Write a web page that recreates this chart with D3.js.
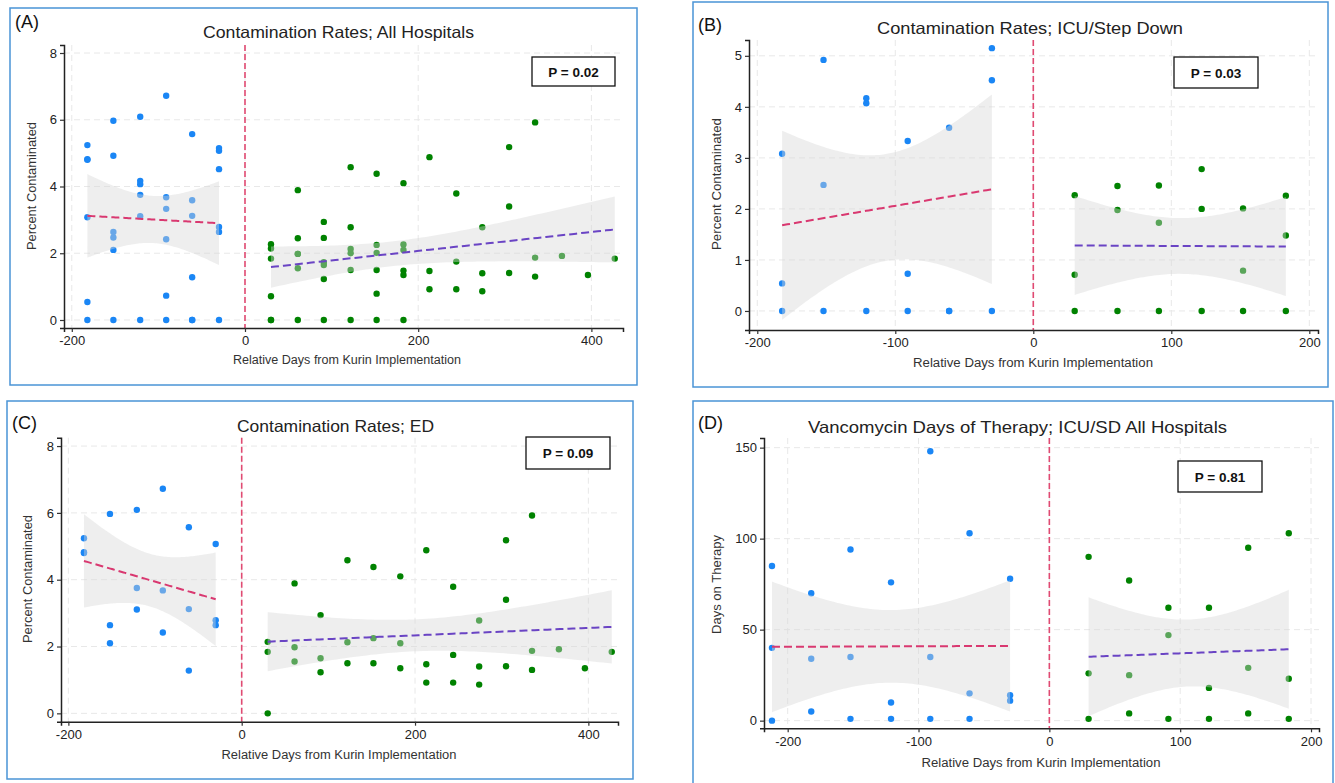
<!DOCTYPE html>
<html>
<head>
<meta charset="utf-8">
<script src="https://cdn.jsdelivr.net/npm/d3@7"></script>
<style>
  body { margin: 0; background: #fff; }
  text { font-family: "Liberation Sans", Arial, sans-serif; }
</style>
</head>
<body>
<svg id="chart" width="1335" height="783"></svg>
<script>
// ---- data ----
// months relative to Kurin implementation (days)
var preDays  = [-182, -152, -121, -91, -61, -30];
var postDays = [30, 61, 91, 122, 152, 183, 213, 244, 274, 305, 335, 366, 396, 427];

// percent contaminated, one sub-array per month (one value per hospital)
var icuPre  = [[3.08, 0.54, 0], [4.92, 2.47, 0], [4.17, 4.07, 0], [3.33, 0.73, 0], [3.59, 0, 0], [5.15, 4.52, 0]];
var icuPost = [[2.27, 0.71, 0], [2.45, 1.98, 0], [2.46, 1.73, 0], [2.78, 2.00, 0], [2.01, 0.79, 0], [2.26, 1.48, 0]];
var edPre   = [[5.24, 4.82, 4.80], [5.97, 2.64, 2.10], [6.09, 3.75, 3.11], [6.72, 3.68, 2.42], [5.57, 3.12, 1.28], [5.07, 2.79, 2.64]];
var edPost  = [[2.14, 1.84, 0], [3.89, 1.98, 1.55], [2.94, 1.65, 1.23], [4.58, 2.13, 1.50], [4.38, 2.25, 1.50],
               [4.10, 2.10, 1.35], [4.88, 1.47, 0.92], [3.79, 1.75, 0.92], [2.78, 1.40, 0.86], [5.18, 3.40, 1.41],
               [5.92, 1.87, 1.30], [1.92], [1.35], [1.84]];

// vancomycin days of therapy, ICU/SD
var vancoPreDays  = [-212, -182, -152, -121, -91, -61, -30];
var vancoPostDays = [30, 61, 91, 122, 152, 183];
var vancoPre  = [[85, 40, 0], [70, 34, 5], [94, 35, 1], [76, 10, 1], [148, 35, 1], [103, 15, 1], [78, 14, 11]];
var vancoPost = [[90, 26, 1], [77, 25, 4], [62, 47, 1], [62, 18, 1], [95, 29, 4], [103, 23, 1]];

var pValues = ["P = 0.02", "P = 0.03", "P = 0.09", "P = 0.81"];

// ---- helpers ----
function toPoints(days, groups) {
    var out = [];
    groups.forEach(function(g, i) {
        g.forEach(function(v) { out.push({x: days[i], y: v}); });
    });
    return out;
}

// 97.5% quantile of t distribution (Cornish-Fisher expansion)
function t975(df) {
    var z = 1.959964, z3 = z*z*z, z5 = z3*z*z, z7 = z5*z*z, z9 = z7*z*z;
    return z + (z3 + z) / (4*df)
             + (5*z5 + 16*z3 + 3*z) / (96*df*df)
             + (3*z7 + 19*z5 + 17*z3 - 15*z) / (384*df*df*df)
             + (79*z9 + 776*z7 + 1482*z5 - 1920*z3 - 945*z) / (92160*df*df*df*df);
}

function linFit(pts) {
    var n = pts.length;
    var mx = d3.mean(pts, function(d) { return d.x; });
    var my = d3.mean(pts, function(d) { return d.y; });
    var sxx = d3.sum(pts, function(d) { return (d.x - mx) * (d.x - mx); });
    var sxy = d3.sum(pts, function(d) { return (d.x - mx) * (d.y - my); });
    var b = sxy / sxx, a = my - b * mx;
    var sse = d3.sum(pts, function(d) { var r = d.y - a - b * d.x; return r * r; });
    var s = Math.sqrt(sse / (n - 2));
    var t = t975(n - 2);
    var x0 = d3.min(pts, function(d) { return d.x; });
    var x1 = d3.max(pts, function(d) { return d.x; });
    return d3.range(81).map(function(i) {
        var x = x0 + (x1 - x0) * i / 80;
        var yh = a + b * x;
        var se = s * Math.sqrt(1 / n + (x - mx) * (x - mx) / sxx);
        return {x: x, y: yh, lo: yh - t * se, hi: yh + t * se};
    });
}

// ---- panels ----
var xlabText = "Relative Days from Kurin Implementation";
var panels = [
    { tag: "(A)", title: "Contamination Rates; All Hospitals", ylab: "Percent Contaminated",
      pre: toPoints(preDays, icuPre).concat(toPoints(preDays, edPre)),
      post: toPoints(postDays.slice(0, 6), icuPost).concat(toPoints(postDays, edPost)),
      box: [10, 8, 637, 385], plot: [64, 45, 623, 328],
      xDom: [-209, 436.5], yDom: [-0.24, 8.24], xTicks: [-200, 0, 200, 400], yTicks: [0, 2, 4, 6, 8],
      pbox: [532, 57, 615, 86], titleX: 338.5, titleW: 271, titleY: 38.3, tagY: 22,
      xlabX: 347, xlabW: 228, xlabY: 364, ylabX: 36, ylabY: 186, ylabW: 128 },
    { tag: "(B)", title: "Contamination Rates; ICU/Step Down", ylab: "Percent Contaminated",
      pre: toPoints(preDays, icuPre), post: toPoints(postDays.slice(0, 6), icuPost),
      box: [693, 2, 1328, 387], plot: [749, 40, 1318, 330],
      xDom: [-206, 206.3], yDom: [-0.373, 5.31], xTicks: [-200, -100, 0, 100, 200], yTicks: [0, 1, 2, 3, 4, 5],
      pbox: [1174, 57, 1258, 88], titleX: 1030, titleW: 306, titleY: 33.5, tagY: 25,
      xlabX: 1033, xlabW: 240, xlabY: 367, ylabX: 721, ylabY: 184, ylabW: 132 },
    { tag: "(C)", title: "Contamination Rates; ED", ylab: "Percent Contaminated",
      pre: toPoints(preDays, edPre), post: toPoints(postDays, edPost),
      box: [7, 401, 633, 779], plot: [61, 437.7, 618, 721.7],
      xDom: [-208.5, 434.2], yDom: [-0.25, 8.25], xTicks: [-200, 0, 200, 400], yTicks: [0, 2, 4, 6, 8],
      pbox: [526, 437, 610, 469], titleX: 335.5, titleW: 197, titleY: 432, tagY: 423,
      xlabX: 339, xlabW: 235, xlabY: 759, ylabX: 32, ylabY: 579, ylabW: 128 },
    { tag: "(D)", title: "Vancomycin Days of Therapy; ICU/SD All Hospitals", ylab: "Days on Therapy",
      pre: toPoints(vancoPreDays, vancoPre), post: toPoints(vancoPostDays, vancoPost),
      box: [693, 401, 1333, 784], plot: [764, 438, 1319, 728.3],
      xDom: [-218.1, 206.1], yDom: [-4.2, 155.3], xTicks: [-200, -100, 0, 100, 200], yTicks: [0, 50, 100, 150],
      pbox: [1178, 461, 1262, 492], titleX: 1017.5, titleW: 419, titleY: 433, tagY: 423,
      xlabX: 1041, xlabW: 239, xlabY: 767, ylabX: 721, ylabY: 584.5, ylabW: 99 }
];

var svg = d3.select("#chart");
var fmt = function(d) { return String(d); };

panels.forEach(function(p, pi) {
    var g = svg.append("g");
    var x = d3.scaleLinear().domain(p.xDom).range([p.plot[0], p.plot[2]]);
    var y = d3.scaleLinear().domain(p.yDom).range([p.plot[3], p.plot[1]]);

    // panel frame
    g.append("rect")
        .attr("x", p.box[0]).attr("y", p.box[1])
        .attr("width", p.box[2] - p.box[0]).attr("height", p.box[3] - p.box[1])
        .attr("fill", "none").attr("stroke", "#4a94d6").attr("stroke-width", 1.5);

    // grid
    g.selectAll(".gx").data(p.xTicks).enter().append("line")
        .attr("x1", function(d) { return x(d); }).attr("x2", function(d) { return x(d); })
        .attr("y1", p.plot[1]).attr("y2", p.plot[3])
        .attr("stroke", "#e8e8e8").attr("stroke-dasharray", "6,4");
    g.selectAll(".gy").data(p.yTicks).enter().append("line")
        .attr("x1", p.plot[0]).attr("x2", p.plot[2])
        .attr("y1", function(d) { return y(d); }).attr("y2", function(d) { return y(d); })
        .attr("stroke", "#e8e8e8").attr("stroke-dasharray", "6,4");

    // points
    g.selectAll(".pre").data(p.pre).enter().append("circle")
        .attr("cx", function(d) { return x(d.x); }).attr("cy", function(d) { return y(d.y); })
        .attr("r", 3.2).attr("fill", "#1a86f5");
    g.selectAll(".post").data(p.post).enter().append("circle")
        .attr("cx", function(d) { return x(d.x); }).attr("cy", function(d) { return y(d.y); })
        .attr("r", 3.2).attr("fill", "#008200");

    // fits with confidence ribbons
    [[p.pre, "#d93870"], [p.post, "#6a44c4"]].forEach(function(s) {
        var band = linFit(s[0]);
        g.append("path")
            .attr("d", d3.area().x(function(d) { return x(d.x); })
                .y0(function(d) { return y(d.lo); }).y1(function(d) { return y(d.hi); })(band))
            .attr("fill", "#d6d6d6").attr("fill-opacity", 0.42);
        g.append("path")
            .attr("d", d3.line().x(function(d) { return x(d.x); }).y(function(d) { return y(d.y); })(band))
            .attr("fill", "none").attr("stroke", s[1]).attr("stroke-width", 2)
            .attr("stroke-dasharray", "8,4");
    });

    // implementation line
    g.append("line")
        .attr("x1", x(0)).attr("x2", x(0)).attr("y1", p.plot[1]).attr("y2", p.plot[3])
        .attr("stroke", "#e04a72").attr("stroke-width", 1.6).attr("stroke-dasharray", "6,3");

    // axes
    var ax = g.append("g").attr("transform", "translate(0," + p.plot[3] + ")")
        .call(d3.axisBottom(x).tickValues(p.xTicks).tickFormat(fmt).tickSizeOuter(0).tickSize(4).tickPadding(4));
    var ay = g.append("g").attr("transform", "translate(" + p.plot[0] + ",0)")
        .call(d3.axisLeft(y).tickValues(p.yTicks).tickFormat(fmt).tickSizeOuter(0).tickSize(4).tickPadding(3));
    [ax, ay].forEach(function(a) {
        a.select(".domain").attr("stroke", "#222").attr("stroke-width", 1.5);
        a.selectAll(".tick line").attr("stroke", "#333").attr("stroke-width", 1.2);
        a.selectAll(".tick text").attr("fill", "#222").style("font-size", "13px")
            .style("font-family", "'Liberation Sans', Arial, sans-serif");
    });

    // text
    g.append("text").attr("x", p.box[0] + 5).attr("y", p.tagY + 6)
        .style("font-size", "18px").attr("fill", "#111").text(p.tag);
    g.append("text").attr("x", p.titleX).attr("y", p.titleY)
        .attr("text-anchor", "middle").style("font-size", "16.5px").attr("fill", "#222")
        .attr("textLength", p.titleW).attr("lengthAdjust", "spacingAndGlyphs").text(p.title);
    g.append("text").attr("x", p.xlabX).attr("y", p.xlabY)
        .attr("text-anchor", "middle").style("font-size", "12px").attr("fill", "#333")
        .attr("textLength", p.xlabW).attr("lengthAdjust", "spacingAndGlyphs").text(xlabText);
    g.append("text")
        .attr("transform", "translate(" + p.ylabX + "," + p.ylabY + ") rotate(-90)")
        .attr("text-anchor", "middle").style("font-size", "12px").attr("fill", "#333")
        .attr("textLength", p.ylabW).attr("lengthAdjust", "spacingAndGlyphs").text(p.ylab);

    // p-value box
    g.append("rect")
        .attr("x", p.pbox[0]).attr("y", p.pbox[1])
        .attr("width", p.pbox[2] - p.pbox[0]).attr("height", p.pbox[3] - p.pbox[1])
        .attr("fill", "#fff").attr("stroke", "#111").attr("stroke-width", 1.3);
    g.append("text")
        .attr("x", (p.pbox[0] + p.pbox[2]) / 2).attr("y", (p.pbox[1] + p.pbox[3]) / 2 + 5)
        .attr("text-anchor", "middle").style("font-size", "13.5px").style("font-weight", "bold")
        .attr("fill", "#111").text(pValues[pi]);
});
</script>
</body>
</html>
